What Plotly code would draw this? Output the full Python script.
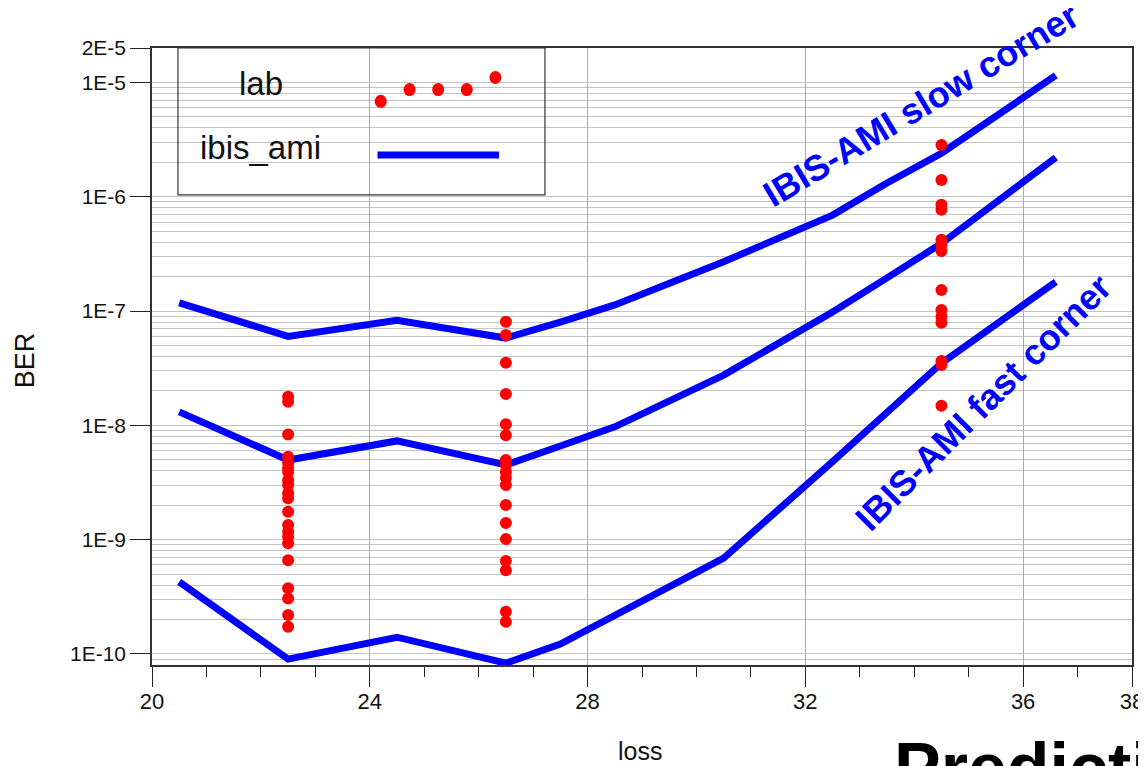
import plotly.graph_objects as go

FONT = "Liberation Sans, Arial, sans-serif"
BLUE = "#0000FF"
RED = "#FF0000"

# ibis_ami simulated corners
loss_sim = [20.5, 22.5, 24.5, 26.5, 27.5, 28.5, 30.5, 32.5, 33.5, 34.5, 36.6]
ber_slow = [1.18e-7, 6.0e-8, 8.3e-8, 5.8e-8, 8.0e-8, 1.13e-7, 2.7e-7, 6.9e-7, 1.32e-6, 2.4e-6, 1.15e-5]
ber_typ = [1.31e-8, 4.97e-9, 7.3e-9, 4.5e-9, 6.6e-9, 9.7e-9, 2.75e-8, 9.8e-8, 1.95e-7, 3.9e-7, 2.2e-6]
ber_fast = [4.26e-10, 9.0e-11, 1.4e-10, 8.3e-11, 1.22e-10, 2.19e-10, 6.9e-10, 4.8e-9, 1.28e-8, 3.5e-8, 1.8e-7]

# lab measurements, one column per channel loss
lab_225 = [1.78e-8, 1.61e-8, 8.3e-9, 5.3e-9, 4.65e-9, 4.2e-9, 3.9e-9, 3.3e-9, 3.0e-9, 2.54e-9,
           2.3e-9, 1.75e-9, 1.34e-9, 1.17e-9, 1.06e-9, 9.3e-10, 6.6e-10, 3.75e-10, 3.06e-10,
           2.19e-10, 1.73e-10]
lab_265 = [8.05e-8, 6.17e-8, 3.53e-8, 1.88e-8, 1.02e-8, 8.2e-9, 4.97e-9, 4.5e-9, 3.9e-9, 3.46e-9,
           3.0e-9, 2.01e-9, 1.40e-9, 1.01e-9, 6.5e-10, 5.4e-10, 2.34e-10, 1.91e-10]
lab_345 = [2.83e-6, 1.40e-6, 8.5e-7, 7.7e-7, 4.2e-7, 3.8e-7, 3.35e-7, 1.53e-7, 1.02e-7, 8.9e-8,
           7.9e-8, 3.66e-8, 3.37e-8, 1.48e-8]

y_tickvals = [2e-5, 1e-5, 1e-6, 1e-7, 1e-8, 1e-9, 1e-10]
y_ticktext = ["2E-5", "1E-5", "1E-6", "1E-7", "1E-8", "1E-9", "1E-10"]
x_tickvals = [20, 24, 28, 32, 36, 38]

lab_x = [22.5] * len(lab_225) + [26.5] * len(lab_265) + [34.5] * len(lab_345)
lab_y = lab_225 + lab_265 + lab_345

fig = go.Figure()
for ber in (ber_slow, ber_typ, ber_fast):
    fig.add_trace(go.Scatter(x=loss_sim, y=ber, mode="lines",
                             line=dict(color=BLUE, width=7), showlegend=False))
fig.add_trace(go.Scatter(x=lab_x, y=lab_y, mode="markers",
                         marker=dict(color=RED, size=12, line=dict(width=0)), showlegend=False))

minor_y = [m * 10.0 ** e for e in range(-11, -4) for m in range(2, 10)]
minor_y = [v for v in minor_y if 8e-11 <= v <= 2e-5]

fig.update_xaxes(
    range=[20, 38], tickvals=x_tickvals, ticks="outside", ticklen=20, tickcolor="#222",
    showline=True, linecolor="#333", linewidth=1.5, mirror=True, automargin=False,
    showgrid=True, gridcolor="#aaaaaa", gridwidth=1, zeroline=False,
    tickfont=dict(family=FONT, size=22, color="#111"), ticklabelstandoff=-4,
    minor=dict(dtick=1, ticks="outside", ticklen=10, tickcolor="#222", showgrid=False),
)
fig.update_yaxes(
    type="log", range=[-10.097, -4.699], tickvals=y_tickvals, ticktext=y_ticktext,
    ticks="outside", ticklen=20, tickcolor="#222",
    showline=True, linecolor="#333", linewidth=1.5, mirror=True, automargin=False,
    showgrid=True, gridcolor="#c4c4c4", gridwidth=1, zeroline=False,
    tickfont=dict(family=FONT, size=21, color="#111"),
    minor=dict(tickvals=minor_y, ticks="", showgrid=True, gridcolor="#c4c4c4", gridwidth=1),
)

# hand-drawn legend box, as in the original
shapes = [
    dict(type="rect", xref="paper", yref="paper", x0=0.0265, x1=0.401, y0=0.762, y1=1.0,
         line=dict(color="#333", width=1.2)),
    dict(type="line", xref="paper", yref="paper", x0=0.2301, x1=0.3541, y0=0.8266, y1=0.8266,
         line=dict(color=BLUE, width=7)),
]
for px_, py_ in [(0.2334, 0.9135), (0.2628, 0.9326), (0.2920, 0.9326), (0.3212, 0.9326), (0.3504, 0.9522)]:
    shapes.append(dict(type="circle", xref="paper", yref="paper", xsizemode="pixel", ysizemode="pixel",
                       xanchor=px_, yanchor=py_, x0=-6, x1=6, y0=-6.5, y1=6.5,
                       fillcolor=RED, line=dict(width=0)))


def note(text, x, y, size, color="#111", angle=0, xanchor="center", yanchor="middle"):
    return dict(text=text, x=x, y=y, xref="paper", yref="paper", showarrow=False,
                textangle=angle, xanchor=xanchor, yanchor=yanchor,
                font=dict(family=FONT, size=size, color=color))


annotations = [
    note("lab", 0.1112, 0.942, 33),
    note("ibis_ami", 0.1112, 0.838, 33),
    note("BER", -0.1296, 0.494, 27, angle=-90),
    note("loss", 0.498, -0.14, 25),
    note("<b>IBIS-AMI slow corner</b>", 0.785, 0.908, 36, color=BLUE, angle=-31),
    note("<b>IBIS-AMI fast corner</b>", 0.848, 0.426, 36, color=BLUE, angle=-45),
    note("<b>Prediction</b>", 0.755, -0.1, 70, color="#000", xanchor="left", yanchor="top"),
]

# the page body adds an 8px offset, so the figure is 8px smaller on each axis
fig.update_layout(
    width=1138, height=758,
    margin=dict(l=144, r=14, t=40, b=101),
    paper_bgcolor="white", plot_bgcolor="white",
    showlegend=False, shapes=shapes, annotations=annotations,
    font=dict(family=FONT),
)

fig.write_html("out.html")
